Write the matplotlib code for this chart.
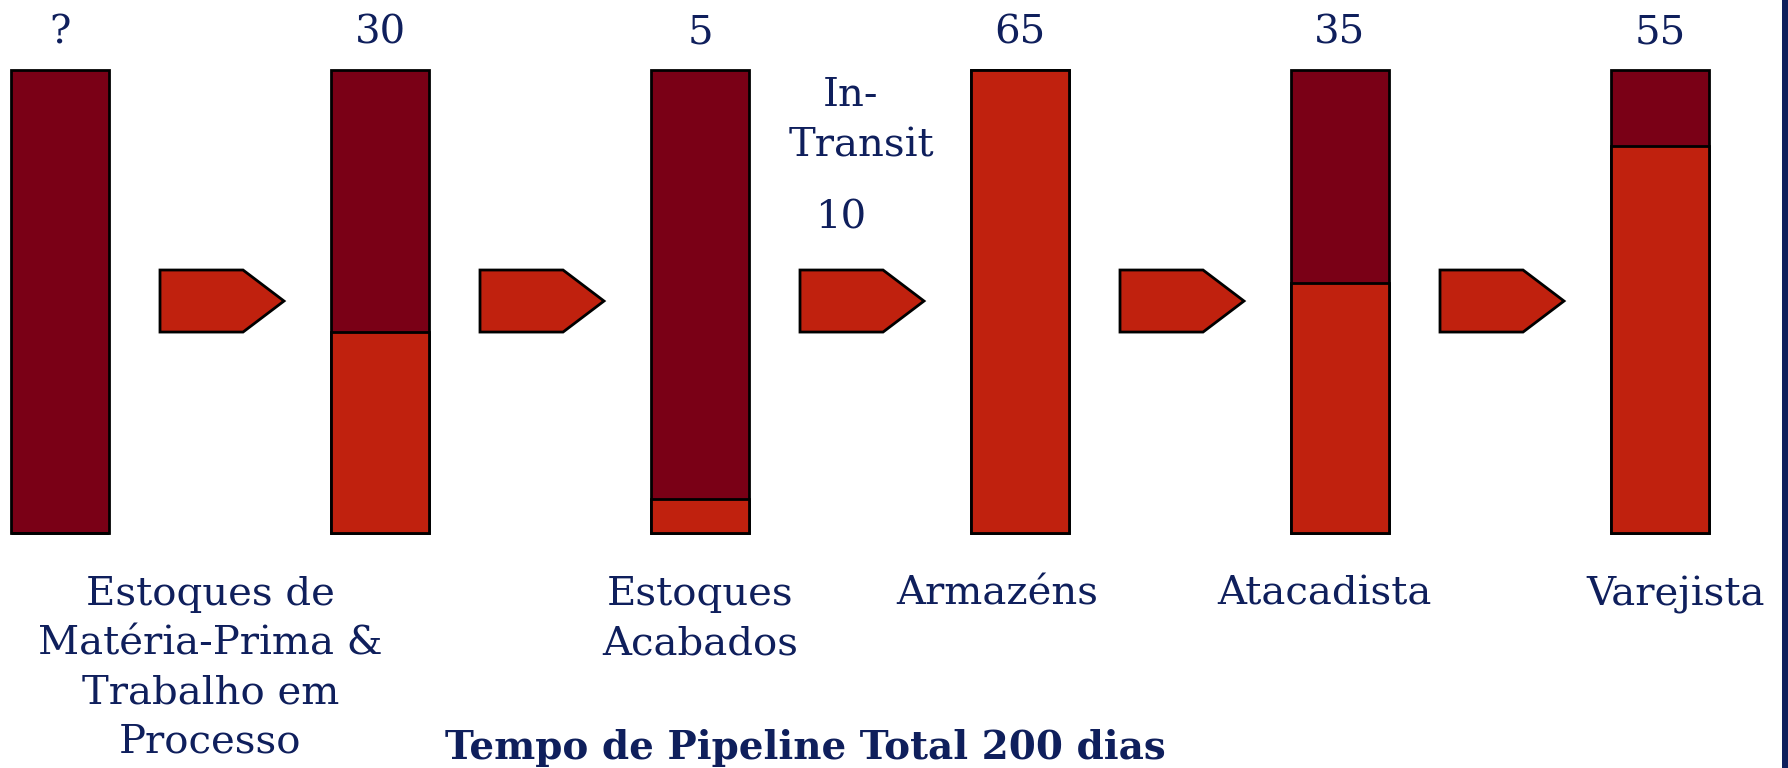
import matplotlib.pyplot as plt
from matplotlib.patches import Polygon, Rectangle

# dados do pipeline
etapas = ["Estoques de\nMatéria-Prima &\nTrabalho em\nProcesso",
          "", "Estoques\nAcabados", "Armazéns", "Atacadista", "Varejista"]
dias = ["?", "30", "5", "65", "35", "55"]
fracao_clara = [0.0, 0.434, 0.073, 1.0, 0.54, 0.836]
transito_dias = "10"
total_dias = 200

escuro = "#7A0016"
claro = "#C0210E"
azul = "#0F1F5C"

plt.rcParams['font.family'] = ['DejaVu Serif']

fig = plt.figure(figsize=(17.88, 7.68), dpi=100)
ax = fig.add_axes([0, 0, 1, 1])
ax.set_xlim(-0.1875, 5.4)
ax.set_ylim(-0.5076, 1.1512)
ax.axis("off")

x = list(range(len(dias)))
larg = 0.306
ax.bar(x, [1.0] * len(x), width=larg, color=escuro, edgecolor="black", linewidth=2)
ax.bar(x, fracao_clara, width=larg, color=claro, edgecolor="black", linewidth=2)

# setas entre as barras
for i in range(len(x) - 1):
    x0, x1, x2 = i + 0.3125, i + 0.572, i + 0.70
    y0, y1, ym = 0.434, 0.568, 0.501
    seta = Polygon([(x0, y0), (x1, y0), (x2, ym), (x1, y1), (x0, y1)],
                   closed=True, facecolor=claro, edgecolor="black", linewidth=2)
    ax.add_patch(seta)

fs = 29
for i, d in enumerate(dias):
    ax.text(i, 1.08, d, ha="center", va="center", fontsize=fs, color=azul)

# rotulos inferiores
pos_rotulo = [0.47, None, 2.0, 2.93, 3.95, 5.05]
for i, r in enumerate(etapas):
    if r:
        ax.text(pos_rotulo[i], -0.092, r, ha="center", va="top", fontsize=fs,
                color=azul, linespacing=1.43)

ax.text(2.47, 0.945, "In-", ha="center", va="center", fontsize=fs, color=azul)
ax.text(2.505, 0.835, "Transit", ha="center", va="center", fontsize=fs, color=azul)
ax.text(2.44, 0.68, transito_dias, ha="center", va="center", fontsize=fs, color=azul)

ax.text(2.33, -0.465, f"Tempo de Pipeline Total {total_dias} dias", ha="center",
        va="center", fontsize=28, fontweight="bold", color=azul)

fig.patches.append(Rectangle((0.9966, 0), 0.0034, 1, transform=fig.transFigure,
                             facecolor=azul, edgecolor="none"))

fig.savefig("out.png", dpi=100)
